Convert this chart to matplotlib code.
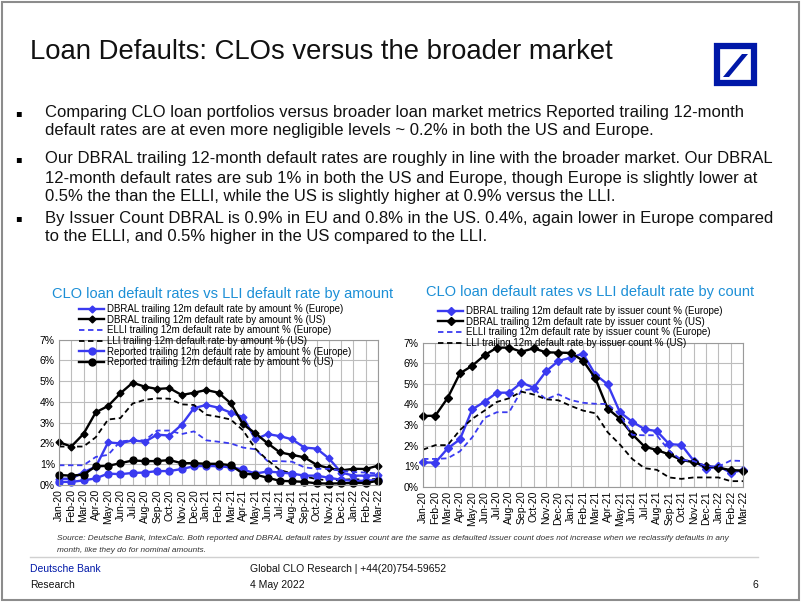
import numpy as np
import matplotlib
matplotlib.use("Agg")
import matplotlib.pyplot as plt
from matplotlib.patches import Rectangle, Polygon
from matplotlib.lines import Line2D

plt.rcParams['font.family'] = ['Liberation Sans', 'DejaVu Sans']

# --- data (percent) ---
months = ['Jan-20', 'Feb-20', 'Mar-20', 'Apr-20', 'May-20', 'Jun-20', 'Jul-20', 'Aug-20', 'Sep-20',
          'Oct-20', 'Nov-20', 'Dec-20', 'Jan-21', 'Feb-21', 'Mar-21', 'Apr-21', 'May-21', 'Jun-21',
          'Jul-21', 'Aug-21', 'Sep-21', 'Oct-21', 'Nov-21', 'Dec-21', 'Jan-22', 'Feb-22', 'Mar-22']

amt_dbral_eu = [0.30, 0.30, 0.62, 0.88, 2.05, 2.00, 2.15, 2.08, 2.42, 2.38, 2.90, 3.70, 3.85, 3.72,
                3.48, 3.27, 2.20, 2.45, 2.35, 2.20, 1.80, 1.75, 1.28, 0.60, 0.45, 0.45, 0.47]
amt_dbral_us = [2.06, 1.85, 2.46, 3.50, 3.80, 4.41, 4.92, 4.73, 4.62, 4.66, 4.33, 4.44, 4.57, 4.44,
                3.93, 2.92, 2.49, 2.01, 1.57, 1.45, 1.33, 0.97, 0.81, 0.70, 0.78, 0.77, 0.93]
amt_elli = [0.95, 0.95, 0.95, 1.35, 1.45, 2.10, 2.15, 2.15, 2.62, 2.62, 2.45, 2.58, 2.15, 2.08,
            2.00, 1.80, 1.72, 1.15, 1.15, 1.12, 0.85, 0.78, 0.78, 0.68, 0.62, 0.60, 0.55]
amt_lli = [1.85, 1.85, 1.85, 2.30, 3.15, 3.22, 3.92, 4.10, 4.17, 4.15, 3.88, 3.85, 3.38, 3.28,
           3.15, 2.63, 1.75, 1.20, 0.72, 0.55, 0.42, 0.28, 0.22, 0.25, 0.28, 0.25, 0.30]
amt_rep_eu = [0.15, 0.15, 0.22, 0.32, 0.55, 0.52, 0.58, 0.60, 0.67, 0.67, 0.77, 0.90, 0.92, 0.90,
              0.85, 0.75, 0.55, 0.65, 0.60, 0.55, 0.45, 0.45, 0.35, 0.25, 0.20, 0.20, 0.25]
amt_rep_us = [0.48, 0.45, 0.50, 0.90, 0.92, 1.05, 1.18, 1.15, 1.15, 1.20, 1.05, 1.05, 1.02, 1.02,
              0.95, 0.55, 0.50, 0.35, 0.20, 0.18, 0.15, 0.08, 0.07, 0.08, 0.10, 0.10, 0.20]

cnt_dbral_eu = [1.18, 1.17, 1.86, 2.30, 3.76, 4.13, 4.57, 4.57, 5.06, 4.81, 5.61, 6.11, 6.27, 6.47,
                5.45, 4.98, 3.62, 3.16, 2.80, 2.70, 2.07, 2.03, 1.26, 0.86, 1.00, 0.68, 0.81]
cnt_dbral_us = [3.44, 3.45, 4.31, 5.51, 5.88, 6.39, 6.76, 6.76, 6.56, 6.73, 6.53, 6.52, 6.50, 6.13,
                5.27, 3.80, 3.30, 2.55, 1.95, 1.78, 1.57, 1.30, 1.19, 1.00, 0.92, 0.81, 0.78]
cnt_elli = [1.35, 1.35, 1.38, 1.72, 2.40, 3.35, 3.62, 3.62, 4.68, 4.75, 4.25, 4.49, 4.21, 4.08,
            4.03, 4.02, 3.50, 2.52, 2.50, 2.50, 1.75, 1.30, 1.25, 1.00, 0.98, 1.27, 1.25]
cnt_lli = [1.80, 2.02, 2.02, 2.75, 3.30, 3.70, 4.12, 4.30, 4.62, 4.48, 4.25, 4.20, 3.93, 3.70,
           3.57, 2.65, 2.05, 1.35, 0.90, 0.82, 0.45, 0.38, 0.45, 0.45, 0.45, 0.27, 0.27]

yticks = [0, 1, 2, 3, 4, 5, 6, 7]

BLUE = '#3a3af0'
TITLE_BLUE = '#1c8fd6'
DB_BLUE = '#0018a8'
GRID = '#bdbdbd'

W, H = 802, 603
fig = plt.figure(figsize=(W / 100, H / 100), dpi=100)


def fx(px):
    return px / W


def fy(py):
    return 1 - py / H


# slide frame
fig.patches.append(Rectangle((fx(2), fy(600)), fx(797), 598 / H, transform=fig.transFigure,
                             fill=False, edgecolor='#8c8c8c', linewidth=1.5))

# title + logo
fig.text(fx(30), fy(52), 'Loan Defaults: CLOs versus the broader market', fontsize=19.8,
         va='center', ha='left', color='#111111')
lx0, ly0, ls = 714, 43, 43
fig.patches.append(Rectangle((fx(lx0 + 3), fy(ly0 + ls - 3)), fx(ls - 6), (ls - 6) / H,
                             transform=fig.transFigure, fill=False, edgecolor=DB_BLUE, linewidth=4.5))
fig.patches.append(Polygon([(fx(723), fy(77)), (fx(729), fy(77)), (fx(748), fy(54)), (fx(742), fy(54))],
                           closed=True, transform=fig.transFigure, facecolor=DB_BLUE, edgecolor='none'))

# bullets
bullet_lines = [
    (113, True, 'Comparing CLO loan portfolios versus broader loan market metrics Reported trailing 12-month'),
    (131, False, 'default rates are at even more negligible levels ~ 0.2% in both the US and Europe.'),
    (159, True, 'Our DBRAL trailing 12-month default rates are roughly in line with the broader market. Our DBRAL'),
    (178, False, '12-month default rates are sub 1% in both the US and Europe, though Europe is slightly lower at'),
    (197, False, '0.5% the than the ELLI, while the US is slightly higher at 0.9% versus the LLI.'),
    (218, True, 'By Issuer Count DBRAL is 0.9% in EU and 0.8% in the US. 0.4%, again lower in Europe compared'),
    (237, False, 'to the ELLI, and 0.5% higher in the US compared to the LLI.'),
]
for yy, has_bullet, txt in bullet_lines:
    if has_bullet:
        fig.text(fx(15), fy(yy), '\u25aa', fontsize=7, va='center', ha='left', family='DejaVu Sans')
    fig.text(fx(45), fy(yy), txt, fontsize=12, va='center', ha='left', color='#111111')


def style_axes(ax):
    ax.set_xlim(0, len(months) - 1)
    ax.set_ylim(0, 7)
    ax.set_yticks(yticks)
    ax.set_yticklabels([f'{v}%' for v in yticks], fontsize=7.5)
    ax.set_xticks(range(len(months)))
    ax.set_xticklabels(months, rotation=90, fontsize=7.5)
    ax.grid(True, color=GRID, linewidth=0.8)
    ax.set_axisbelow(True)
    ax.tick_params(length=0, pad=3)
    for s in ax.spines.values():
        s.set_color('#9a9a9a')
        s.set_linewidth(0.8)


legend_kw = dict(bbox_transform=fig.transFigure, loc='upper left', frameon=False, fontsize=7.0,
                 handlelength=2.6, handletextpad=0.3, labelspacing=0.07, borderpad=0, borderaxespad=0)

x = np.arange(len(months))

# left chart: by amount
ax1 = fig.add_axes([fx(59), fy(485), fx(378 - 59), (485 - 339.5) / H])
style_axes(ax1)
ax1.plot(x, amt_dbral_eu, color=BLUE, lw=1.7, marker='D', ms=3.5, clip_on=False,
         label='DBRAL trailing 12m default rate by amount % (Europe)')
ax1.plot(x, amt_dbral_us, color='black', lw=1.7, marker='D', ms=3.5, clip_on=False,
         label='DBRAL trailing 12m default rate by amount % (US)')
ax1.plot(x, amt_elli, color=BLUE, lw=1.3, ls=(0, (3, 2)),
         label='ELLI trailing 12m default rate by amount % (Europe)')
ax1.plot(x, amt_lli, color='black', lw=1.3, ls=(0, (3, 2)),
         label='LLI trailing 12m default rate by amount % (US)')
ax1.plot(x, amt_rep_eu, color=BLUE, lw=1.7, marker='o', ms=5, clip_on=False,
         label='Reported trailing 12m default rate by amount % (Europe)')
ax1.plot(x, amt_rep_us, color='black', lw=1.7, marker='o', ms=5, clip_on=False,
         label='Reported trailing 12m default rate by amount % (US)')
ax1.legend(bbox_to_anchor=(fx(79), fy(304)), **legend_kw)
fig.text(fx(52), fy(294), 'CLO loan default rates vs LLI default rate by amount', fontsize=10.5,
         color=TITLE_BLUE, va='center', ha='left')

# right chart: by issuer count
ax2 = fig.add_axes([fx(423), fy(486.7), fx(743 - 423), (486.7 - 342.7) / H])
style_axes(ax2)
ax2.plot(x, cnt_dbral_eu, color=BLUE, lw=1.7, marker='D', ms=4.5, clip_on=False,
         label='DBRAL trailing 12m default rate by issuer count % (Europe)')
ax2.plot(x, cnt_dbral_us, color='black', lw=1.7, marker='D', ms=4.5, clip_on=False,
         label='DBRAL trailing 12m default rate by issuer count % (US)')
ax2.plot(x, cnt_elli, color=BLUE, lw=1.3, ls=(0, (3, 2)),
         label='ELLI trailing 12m default rate by issuer count % (Europe)')
ax2.plot(x, cnt_lli, color='black', lw=1.3, ls=(0, (3, 2)),
         label='LLI trailing 12m default rate by issuer count % (US)')
ax2.legend(bbox_to_anchor=(fx(438), fy(306)), **legend_kw)
fig.text(fx(426), fy(292), 'CLO loan default rates vs LLI default rate by count', fontsize=10.5,
         color=TITLE_BLUE, va='center', ha='left')

# source note
fig.text(fx(57), fy(539), 'Source: Deutsche Bank, IntexCalc. Both reported and DBRAL default rates by issuer count '
         'are the same as defaulted issuer count does not increase when we reclassify defaults in any',
         fontsize=5.95, style='italic', color='#333333', va='center', ha='left')
fig.text(fx(57), fy(551), 'month, like they do for nominal amounts.', fontsize=5.95, style='italic',
         color='#333333', va='center', ha='left')

# footer
fig.add_artist(Line2D([fx(30), fx(758)], [fy(557), fy(557)], transform=fig.transFigure,
                      color='#d0d0d0', lw=1))
fig.text(fx(30), fy(569), 'Deutsche Bank', fontsize=7.5, color=DB_BLUE, va='center')
fig.text(fx(30), fy(585), 'Research', fontsize=7.5, color='#111111', va='center')
fig.text(fx(250), fy(569), 'Global CLO Research | +44(20)754-59652', fontsize=7.5, color='#111111', va='center')
fig.text(fx(250), fy(585), '4 May 2022', fontsize=7.5, color='#111111', va='center')
fig.text(fx(758), fy(585), '6', fontsize=7.5, color='#111111', va='center', ha='right')

fig.savefig('out.png', dpi=100)
